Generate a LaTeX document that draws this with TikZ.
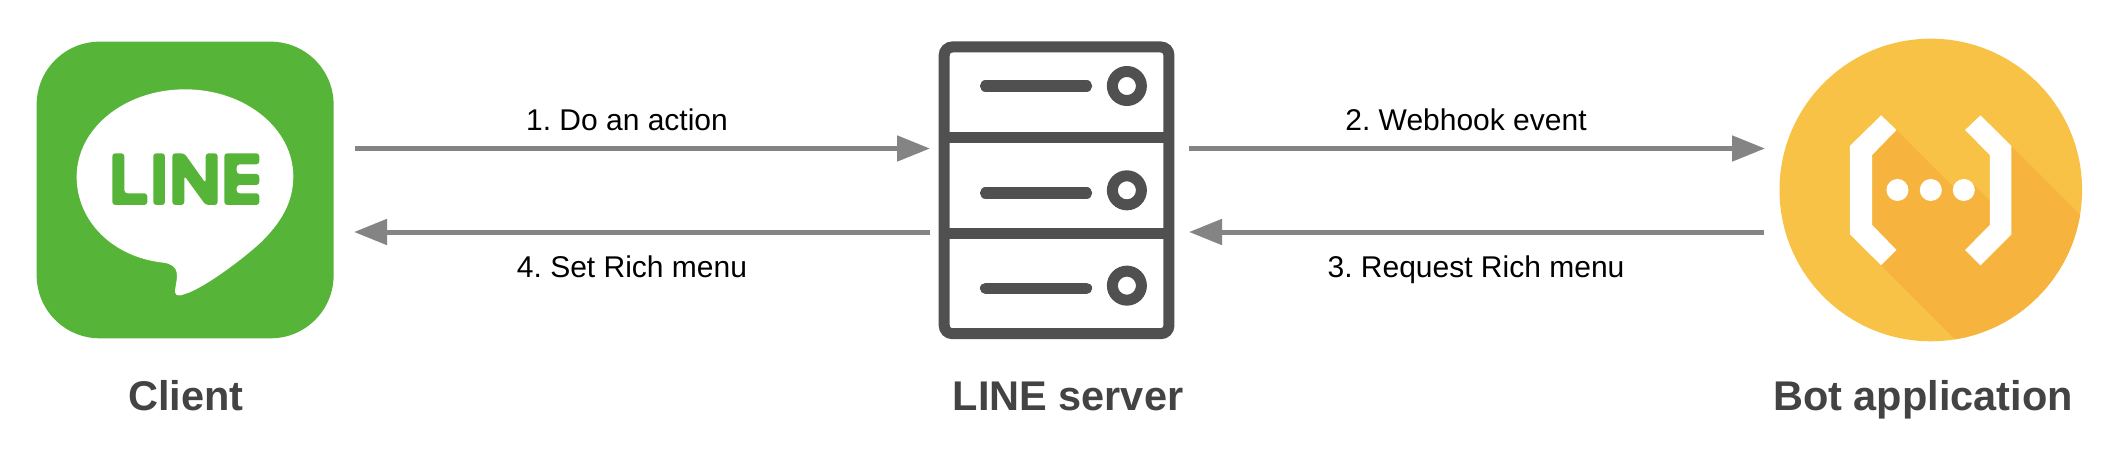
\documentclass[tikz,border=0pt]{standalone}
\usepackage{fontspec}
\setmainfont{Liberation Sans}
\frenchspacing
\definecolor{linegreen}{HTML}{56B538}
\definecolor{srv}{HTML}{505050}
\definecolor{arrowgrey}{HTML}{848484}
\definecolor{botbase}{HTML}{F8C246}
\definecolor{botshade}{HTML}{F6B43F}
\definecolor{labelgrey}{HTML}{434343}
\usetikzlibrary{arrows.meta}
\tikzset{
  flow/.style={draw=arrowgrey,line width=5pt,-{Triangle[length=33pt,width=25pt,fill=arrowgrey]}},
  steplabel/.style={font=\fontsize{30}{34}\selectfont,text=black,inner sep=0pt,anchor=base},
  titlelabel/.style={font=\fontsize{41.5}{48}\selectfont\bfseries,text=labelgrey,inner sep=0pt,anchor=base},
  srvline/.style={draw=srv,line width=11pt},
  srvbar/.style={draw=srv,line width=11.3pt,line cap=round},
  srvdot/.style={draw=srv,line width=11pt,fill=white},
}
\begin{document}
\begin{tikzpicture}[x=1pt,y=-1pt]
\useasboundingbox (0,0) rectangle (2114,450);
\fill[white] (0,0) rectangle (2114,450);
% client icon
\begin{scope}[x=0.3333pt,y=-0.3333pt,shift={(0,60)}]
\fill[linegreen,rounded corners=63pt] (110,65) rectangle (1001,955);
\fill[white] (555,208) .. controls (735,208) and (880,325) .. (880,470)
  .. controls (880,550) and (840,610) .. (785,665)
  .. controls (715,730) and (600,810) .. (555,822)
  .. controls (530,832) and (522,825) .. (526,805)
  .. controls (532,770) and (542,735) .. (490,728)
  .. controls (340,712) and (230,605) .. (230,470)
  .. controls (230,325) and (375,208) .. (555,208) -- cycle;
\fill[linegreen,rounded corners=3pt] (337,400) -- (373,400) -- (373,520) -- (442,520) -- (442,555) -- (337,555) -- cycle;
\fill[linegreen,rounded corners=3pt] (460,400) rectangle (495,555);
\fill[linegreen,rounded corners=3pt] (517,400) -- (553,400) -- (617,490) -- (617,400) -- (653,400) -- (653,555) -- (617,555) -- (553,467) -- (553,555) -- (517,555) -- cycle;
\fill[linegreen,rounded corners=3pt] (673,400) -- (778,400) -- (778,433) -- (710,433) -- (710,462) -- (778,462) -- (778,495) -- (710,495) -- (710,520) -- (778,520) -- (778,555) -- (673,555) -- cycle;
\end{scope}
% server icon
\begin{scope}[x=0.3333pt,y=-0.3333pt,shift={(2760,60)}]
\draw[srvline,rounded corners=8pt] (73,81) rectangle (747,941);
\draw[srvline] (73,354) -- (747,354);
\draw[srvline] (73,640) -- (747,640);
\draw[srvbar] (197,198) -- (500,198);
\draw[srvbar] (197,519) -- (500,519);
\draw[srvbar] (197,805) -- (500,805);
\draw[srvdot] (621,198) circle[radius=14.5pt];
\draw[srvdot] (621,511) circle[radius=14.5pt];
\draw[srvdot] (621,797) circle[radius=14.5pt];
\end{scope}
% bot icon
\begin{scope}[x=0.3333pt,y=-0.3333pt,shift={(5280,60)}]
\fill[botbase] (513,510) circle[radius=151.3pt];
\begin{scope}
\clip (513,510) circle[radius=151.3pt];
\fill[botshade] (410,330) -- (600,520) -- (635,487) -- (690,542) -- (755,378) -- (1000,623) -- (1000,1000) -- (628,1000) -- (364,736) -- (270,643) -- (270,378) -- cycle;
\end{scope}
\fill[white] (364,286) -- (410,330) -- (337,405) -- (337,615) -- (410,690) -- (364,736) -- (270,643) -- (270,378) -- cycle;
\fill[white] (662,286) -- (755,378) -- (755,643) -- (662,736) -- (616,690) -- (690,615) -- (690,405) -- (616,330) -- cycle;
\fill[white] (413,510) circle[radius=11pt];
\fill[white] (513,510) circle[radius=11pt];
\fill[white] (612,510) circle[radius=11pt];
\end{scope}
% anchors
\coordinate (c1) at (355,148.5);
\coordinate (s1) at (930,148.5);
\coordinate (s4) at (930,232);
\coordinate (c4) at (354,232);
\coordinate (s2) at (1189,148.5);
\coordinate (b2) at (1765,148.5);
\coordinate (b3) at (1764,232);
\coordinate (s3) at (1189,232);
\draw[flow] (c1) -- (s1);
\draw[flow] (s4) -- (c4);
\draw[flow] (s2) -- (b2);
\draw[flow] (b3) -- (s3);
\node[steplabel] (l1) at (627,130) {1. Do an action};
\node[steplabel] (l4) at (632,277) {4. Set Rich menu};
\node[steplabel] (l2) at (1466,130) {2. Webhook event};
\node[steplabel] (l3) at (1476,277) {3. Request Rich menu};
\node[titlelabel] (t1) at (186,410) {Client};
\node[titlelabel] (t2) at (1068,410) {LINE server};
\node[titlelabel] (t3) at (1923,410) {Bot application};
\end{tikzpicture}
\end{document}
